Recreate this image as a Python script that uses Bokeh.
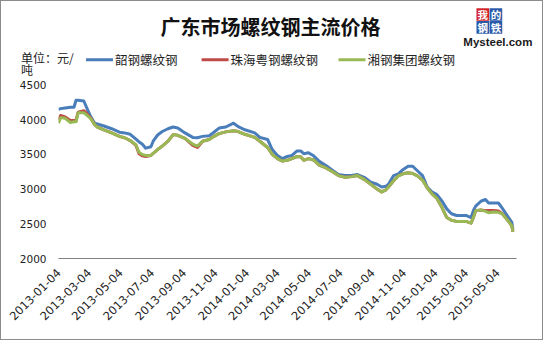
import math
import pandas as pd
from bokeh.plotting import figure
from bokeh.layouts import column
from bokeh.models import Range1d, FixedTicker, ColumnDataSource, DatetimeTickFormatter
from bokeh.core.properties import value
from bokeh.embed import file_html
from bokeh.resources import INLINE

# ---------------- data ----------------
dates = [
    "2013-01-04", "2013-01-08", "2013-01-17", "2013-01-27", "2013-02-03", "2013-02-07", "2013-02-11", "2013-02-22", "2013-03-01", "2013-03-07",
    "2013-03-15", "2013-03-20", "2013-04-02", "2013-04-17", "2013-05-02", "2013-05-12", "2013-05-23", "2013-06-03", "2013-06-09", "2013-06-15",
    "2013-06-22", "2013-07-02", "2013-07-07", "2013-07-15", "2013-07-24", "2013-08-04", "2013-08-14", "2013-08-23", "2013-09-06", "2013-09-21",
    "2013-09-30", "2013-10-10", "2013-10-23", "2013-11-01", "2013-11-11", "2013-11-24", "2013-12-09", "2013-12-18", "2013-12-31", "2014-01-19",
    "2014-01-29", "2014-02-13", "2014-02-22", "2014-03-04", "2014-03-13", "2014-03-23", "2014-04-01", "2014-04-11", "2014-04-18", "2014-04-24",
    "2014-05-03", "2014-05-13", "2014-05-24", "2014-06-06", "2014-06-19", "2014-06-30", "2014-07-13", "2014-07-26", "2014-08-06", "2014-08-19",
    "2014-09-01", "2014-09-13", "2014-09-22", "2014-09-30", "2014-10-05", "2014-10-15", "2014-10-24", "2014-11-02", "2014-11-12", "2014-11-21",
    "2014-11-30", "2014-12-10", "2014-12-19", "2014-12-28", "2015-01-07", "2015-01-17", "2015-01-26", "2015-02-04", "2015-02-14", "2015-02-23",
    "2015-03-04", "2015-03-14", "2015-03-19", "2015-03-23", "2015-04-02", "2015-04-11", "2015-04-17", "2015-04-26", "2015-05-06", "2015-05-13",
    "2015-05-23", "2015-06-01", "2015-06-03",
]

shaogang = [
    4150, 4160, 4170, 4180, 4180, 4280, 4280, 4270, 4150, 4050,
    3950, 3940, 3910, 3870, 3820, 3810, 3790, 3720, 3680, 3650,
    3590, 3610, 3700, 3780, 3830, 3870, 3895, 3880, 3810, 3745,
    3740, 3760, 3770, 3820, 3880, 3895, 3950, 3900, 3855, 3810,
    3745, 3715, 3570, 3485, 3440, 3470, 3485, 3550, 3550, 3510,
    3525, 3480, 3400, 3340, 3270, 3210, 3195, 3195, 3210, 3170,
    3100, 3070, 3030, 3040, 3070, 3195, 3220, 3280, 3330, 3330,
    3265, 3195, 3030, 2960, 2920, 2825, 2715, 2645, 2620, 2620,
    2620, 2590, 2700, 2755, 2825, 2850, 2800, 2800, 2800, 2730,
    2620, 2520, 2410,
]

zhuhai = [
    4000, 4060, 4040, 3990, 3990, 3990, 4110, 4130, 4080, 4030,
    3930, 3895, 3855, 3810, 3760, 3740, 3700, 3630, 3510, 3480,
    3470, 3485, 3520, 3570, 3620, 3690, 3785, 3775, 3730, 3630,
    3600, 3690, 3715, 3760, 3800, 3825, 3840, 3830, 3790, 3745,
    3690, 3600, 3500, 3440, 3405, 3415, 3440, 3470, 3465, 3415,
    3440, 3420, 3345, 3305, 3250, 3195, 3170, 3180, 3195, 3140,
    3070, 3000, 2960, 2990, 3030, 3120, 3190, 3220, 3235, 3225,
    3190, 3130, 3020, 2935, 2865, 2730, 2590, 2550, 2535, 2535,
    2535, 2510, 2600, 2690, 2700, 2690, 2690, 2690, 2685, 2650,
    2560, 2470, 2385,
]

xianggang = [
    3950, 4030, 4020, 3960, 3970, 3970, 4100, 4100, 4060, 4020,
    3930, 3895, 3855, 3810, 3760, 3740, 3700, 3640, 3530, 3500,
    3485, 3485, 3520, 3570, 3620, 3690, 3785, 3775, 3730, 3650,
    3620, 3690, 3715, 3760, 3800, 3825, 3840, 3830, 3790, 3745,
    3690, 3600, 3500, 3440, 3405, 3415, 3440, 3470, 3465, 3415,
    3440, 3420, 3345, 3305, 3250, 3195, 3170, 3180, 3195, 3140,
    3070, 3000, 2960, 2990, 3030, 3120, 3190, 3220, 3235, 3225,
    3190, 3130, 3020, 2935, 2865, 2730, 2590, 2550, 2535, 2535,
    2535, 2510, 2600, 2690, 2700, 2680, 2660, 2670, 2665, 2645,
    2560, 2470, 2385,
]

series_names = ["韶钢螺纹钢", "珠海粤钢螺纹钢", "湘钢集团螺纹钢"]
series_colors = ["#4A7EBB", "#BE4B48", "#98B954"]

tick_labels = [
    "2013-01-04", "2013-03-04", "2013-05-04", "2013-07-04", "2013-09-04",
    "2013-11-04", "2014-01-04", "2014-03-04", "2014-05-04", "2014-07-04",
    "2014-09-04", "2014-11-04", "2015-01-04", "2015-03-04", "2015-05-04",
]
y_ticks = [2000, 2500, 3000, 3500, 4000, 4500]
x_start, x_end = "2013-01-04", "2015-06-10"

title_text = "广东市场螺纹钢主流价格"
unit_line1 = "单位：元/"
unit_line2 = "吨"
logo_chars = ["我", "的", "钢", "铁"]
logo_colors = ["#D2232A", "#2B5AA8", "#2B5AA8", "#2B5AA8"]
logo_text = "Mysteel.com"

# ---------------- layout constants ----------------
CJK = "Noto Sans CJK SC"
W = 541                  # canvas width (+1px border each side = 543)
H_HEAD = 77              # header canvas height
H_MAIN = 261             # main canvas height (77 + 261 + 2 = 340)
SX, SY = 543 / 559, 340 / 356   # reference picture -> this page


def hx(X):
    return X * SX - 1


def hy(Y):
    return Y * SY - 1


# ---------------- header (title, unit, legend, logo) ----------------
head = figure(width=W, height=H_HEAD, output_backend="svg", toolbar_location=None,
              x_range=Range1d(0, W), y_range=Range1d(H_HEAD, 0),
              x_axis_location=None, y_axis_location=None,
              min_border=0, min_border_left=0, min_border_right=0,
              min_border_top=0, min_border_bottom=0, frame_align=False)
head.title.visible = False
head.grid.visible = False
head.outline_line_color = None
head.background_fill_color = "white"
head.border_fill_color = "white"

head.text(x=[hx(278)], y=[hy(27)], text=[title_text], text_font=value(CJK),
          text_font_style="bold", text_font_size=value("20px"),
          text_align="center", text_baseline="middle", text_color="#111111")

head.text(x=[hx(21)], y=[hy(59.5)], text=[unit_line1],
          text_font=value(CJK), text_font_size=value("12px"),
          text_align="left", text_baseline="middle", text_color="#222222")
head.text(x=[hx(21)], y=[H_HEAD - 0.5], text=[unit_line2],
          text_font=value(CJK), text_font_size=value("12px"),
          text_align="left", text_baseline="bottom", text_color="#222222")

leg_x0 = [hx(88), hx(207), hx(348)]
leg_len = 27
head.segment(x0=leg_x0, y0=[hy(62)] * 3, x1=[v + leg_len for v in leg_x0], y1=[hy(62)] * 3,
             line_color=series_colors, line_width=3)
head.text(x=[v + leg_len + 2 for v in leg_x0], y=[hy(62)] * 3, text=series_names,
          text_font=value(CJK), text_font_size=value("12.5px"),
          text_align="left", text_baseline="middle", text_color="#222222")

box_l = [hx(490), hx(503.5), hx(490), hx(503.5)]
box_t = [hy(8), hy(8), hy(21.5), hy(21.5)]
bs = 13 * SX
head.quad(left=box_l, right=[v + bs for v in box_l], top=box_t, bottom=[v + bs for v in box_t],
          fill_color=logo_colors, line_color=None)
head.text(x=[v + bs / 2 for v in box_l], y=[v + bs / 2 + 0.5 for v in box_t], text=logo_chars,
          text_font=value(CJK), text_font_style="bold", text_font_size=value("10.5px"),
          text_align="center", text_baseline="middle", text_color="white")
head.text(x=[hx(512)], y=[hy(43)], text=[logo_text], text_font=value("Liberation Sans"),
          text_font_style="bold", text_font_size=value("11.5px"),
          text_align="center", text_baseline="middle", text_color="#1a1a1a")

# ---------------- main chart ----------------
# frame: left/right at reference x 60 / 531, value 2000 at reference y 270, 4500 at y 88.5
frame_top_c = 0.0                         # main canvas starts right under the header
y4500_c = hy(88.5) - H_HEAD               # canvas y of the 4500 tick
y2000_c = hy(270) - H_HEAD                # canvas y of the 2000 tick (frame bottom)
px_per_unit = (y2000_c - y4500_c) / (y_ticks[-1] - y_ticks[0])
y_top_value = y_ticks[-1] + (y4500_c - frame_top_c) / px_per_unit

p = figure(width=W, height=H_MAIN, output_backend="svg", toolbar_location=None,
           x_axis_type="datetime",
           x_range=Range1d(pd.Timestamp(x_start), pd.Timestamp(x_end)),
           y_range=Range1d(y_ticks[0], y_top_value),
           min_border_left=round(hx(60)), min_border_right=W - round(hx(531)),
           min_border_top=0, min_border_bottom=H_MAIN - round(y2000_c),
           frame_align=False)
p.title.visible = False
p.outline_line_color = None
p.background_fill_color = "white"
p.border_fill_color = "white"
p.xgrid.visible = False
p.ygrid.visible = False

src = ColumnDataSource(dict(x=pd.to_datetime(dates), a=shaogang, b=zhuhai, c=xianggang))
for col, color in zip(["a", "b", "c"], series_colors):
    p.line("x", col, source=src, line_color=color, line_width=3, line_join="round")

xa = p.xaxis[0]
xa.ticker = FixedTicker(ticks=[pd.Timestamp(t).value / 1e6 for t in tick_labels])
fmt = "%Y-%m-%d"
xa.formatter = DatetimeTickFormatter(milliseconds=fmt, seconds=fmt, minsec=fmt, minutes=fmt,
                                     hourmin=fmt, hours=fmt, days=fmt, months=fmt, years=fmt)
xa.major_label_orientation = math.pi / 4
xa.axis_line_color = "#808080"
xa.axis_line_width = 1
xa.major_tick_line_color = None
xa.minor_tick_line_color = None
xa.major_tick_out = 0
xa.major_tick_in = 0
xa.major_label_standoff = 12
xa.major_label_text_font = "DejaVu Sans"
xa.major_label_text_font_size = "11.5px"
xa.major_label_text_color = "#222222"

ya = p.yaxis[0]
ya.ticker = FixedTicker(ticks=y_ticks)
ya.axis_line_color = None
ya.major_tick_line_color = None
ya.minor_tick_line_color = None
ya.major_tick_out = 0
ya.major_tick_in = 0
ya.major_label_standoff = 12
ya.major_label_text_font = "DejaVu Sans"
ya.major_label_text_font_size = "10.5px"
ya.major_label_text_color = "#222222"

layout = column(head, p, spacing=0)
layout.styles = {"border": "1px solid #8c8c8c", "background-color": "white"}

open("out.html", "w").write(file_html(layout, INLINE))
